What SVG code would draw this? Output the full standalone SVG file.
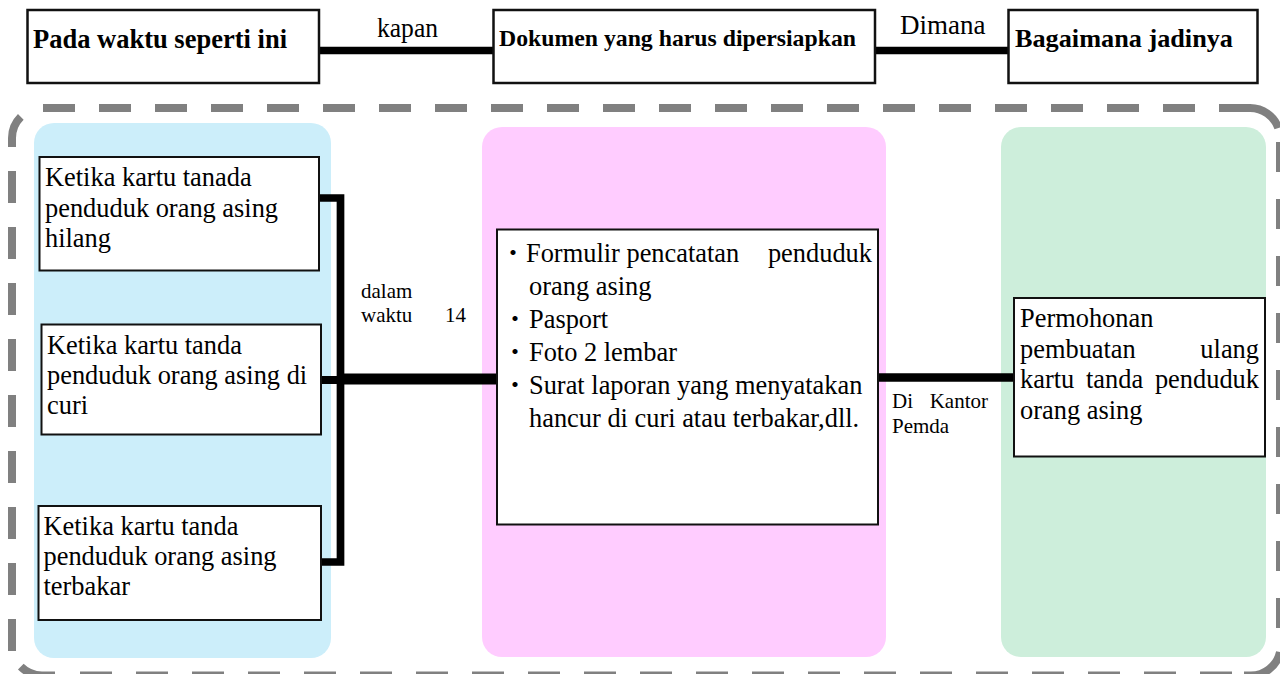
<svg xmlns="http://www.w3.org/2000/svg" width="1280" height="674" viewBox="0 0 1280 674">
<style>
.box{fill:#ffffff;stroke:#111111;stroke-width:2}
.hd{font-family:"Liberation Serif","Times New Roman",serif;font-weight:bold;fill:#000}
.tx{font-family:"Liberation Serif","Times New Roman",serif;font-size:26.4px;fill:#000}
.sm{font-family:"Liberation Serif","Times New Roman",serif;font-size:21px;fill:#000}
.bul{font-family:"Noto Sans CJK JP",sans-serif;font-size:24px;fill:#000}
.dash{fill:none;stroke:#808080;stroke-width:8;stroke-linecap:butt}
.ln{fill:none;stroke:#000;stroke-linecap:butt;stroke-linejoin:miter}
</style>
<rect width="1280" height="674" fill="#ffffff"/>

<g id="frame">
<path class="dash" d="M43,108 H1251" stroke-dasharray="32 24"/>
<path class="dash" d="M1219,108 H1250 A30,30 0 0 1 1278.3,128"/>
<path class="dash" d="M1280,142 V630" stroke-dasharray="30 27"/>
<path class="dash" d="M1280,652 A30,30 0 0 1 1250,675.5 H1244"/>
<path class="dash" d="M80,675.5 H1233" stroke-dasharray="32 24"/>
<path class="dash" d="M55,675.5 H42 A30,30 0 0 1 20.8,666.7"/>
<path class="dash" d="M12,651 V170" stroke-dasharray="32 24"/>
<path class="dash" d="M12,147 V138 A30,30 0 0 1 20.8,116.8"/>
</g>

<g id="panels">
<rect x="34" y="123" width="297" height="535" rx="20" fill="#cceefa"/>
<rect x="482" y="127" width="404" height="530" rx="20" fill="#ffccff"/>
<rect x="1001" y="127" width="265" height="530" rx="20" fill="#cdeedb"/>
</g>

<g id="connectors">
<line class="ln" x1="320" y1="50.5" x2="493" y2="50.5" stroke-width="7.5"/>
<line class="ln" x1="875" y1="50.5" x2="1008" y2="50.5" stroke-width="7.5"/>
<path class="ln" d="M319,198 H340.5 V562 H321" stroke-width="7.7"/>
<line class="ln" x1="321" y1="380" x2="341" y2="380" stroke-width="8"/>
<line class="ln" x1="337" y1="379" x2="497" y2="379" stroke-width="11"/>
<line class="ln" x1="878" y1="377.5" x2="1014" y2="377.5" stroke-width="8.5"/>
</g>

<g id="labels">
<text class="tx" x="377" y="37" font-size="26" textLength="61" lengthAdjust="spacingAndGlyphs">kapan</text>
<text class="tx" x="900" y="34" style="font-size:27px">Dimana</text>
<text class="sm" x="361" y="298">dalam</text>
<text class="sm" x="361" y="322">waktu</text>
<text class="sm" x="445" y="322">14</text>
<text class="sm" x="892" y="408">Di</text>
<text class="sm" x="988" y="408" text-anchor="end">Kantor</text>
<text class="sm" x="892" y="433">Pemda</text>
</g>

<g id="h1">
<rect class="box" x="27.5" y="10" width="291.5" height="73" style="stroke-width:2.5"/>
<text class="hd" x="33" y="48" font-size="26.5" textLength="254" lengthAdjust="spacingAndGlyphs">Pada waktu seperti ini</text>
</g>
<g id="h2">
<rect class="box" x="493.5" y="10" width="381.5" height="73" style="stroke-width:2.5"/>
<text class="hd" x="499" y="46" font-size="24" textLength="357" lengthAdjust="spacingAndGlyphs">Dokumen yang harus dipersiapkan</text>
</g>
<g id="h3">
<rect class="box" x="1008.5" y="10" width="249" height="73" style="stroke-width:2.5"/>
<text class="hd" x="1015" y="47" font-size="25.5" textLength="218" lengthAdjust="spacingAndGlyphs">Bagaimana jadinya</text>
</g>

<g id="case1">
<rect class="box" x="39.5" y="157" width="279.5" height="113.5"/>
<text class="tx" x="45" y="186">Ketika kartu tanada</text>
<text class="tx" x="45" y="216.5">penduduk orang asing</text>
<text class="tx" x="45" y="246.5">hilang</text>
</g>
<g id="case2">
<rect class="box" x="41.5" y="324.5" width="279.5" height="110"/>
<text class="tx" x="47" y="353.5">Ketika kartu tanda</text>
<text class="tx" x="47" y="383.5">penduduk orang asing di</text>
<text class="tx" x="47" y="413.5">curi</text>
</g>
<g id="case3">
<rect class="box" x="38.5" y="506" width="282.5" height="114"/>
<text class="tx" x="43.5" y="534.5">Ketika kartu tanda</text>
<text class="tx" x="43.5" y="564.5">penduduk orang asing</text>
<text class="tx" x="43.5" y="594.5">terbakar</text>
</g>

<g id="documents">
<rect class="box" x="497" y="229.5" width="381" height="295"/>
<text class="bul" x="513" y="261" text-anchor="middle">・</text>
<text class="tx" x="526" y="261.5">Formulir pencatatan</text>
<text class="tx" x="872" y="261.5" text-anchor="end">penduduk</text>
<text class="tx" x="529" y="294.5">orang asing</text>
<text class="bul" x="515" y="327" text-anchor="middle">・</text>
<text class="tx" x="529" y="327.5">Pasport</text>
<text class="bul" x="515" y="360" text-anchor="middle">・</text>
<text class="tx" x="529" y="360.5">Foto 2 lembar</text>
<text class="bul" x="515" y="393" text-anchor="middle">・</text>
<text class="tx" x="529" y="393.5">Surat laporan yang menyatakan</text>
<text class="tx" x="529" y="426.5">hancur di curi atau terbakar,dll.</text>
</g>

<g id="result">
<rect class="box" x="1014" y="298" width="251" height="158.5"/>
<text class="tx" x="1020" y="327">Permohonan</text>
<text class="tx" x="1020" y="357.5">pembuatan</text>
<text class="tx" x="1259" y="357.5" text-anchor="end">ulang</text>
<text class="tx" x="1020" y="388">kartu</text>
<text class="tx" x="1086" y="388">tanda</text>
<text class="tx" x="1259" y="388" text-anchor="end">penduduk</text>
<text class="tx" x="1020" y="418.5">orang asing</text>
</g>
</svg>
